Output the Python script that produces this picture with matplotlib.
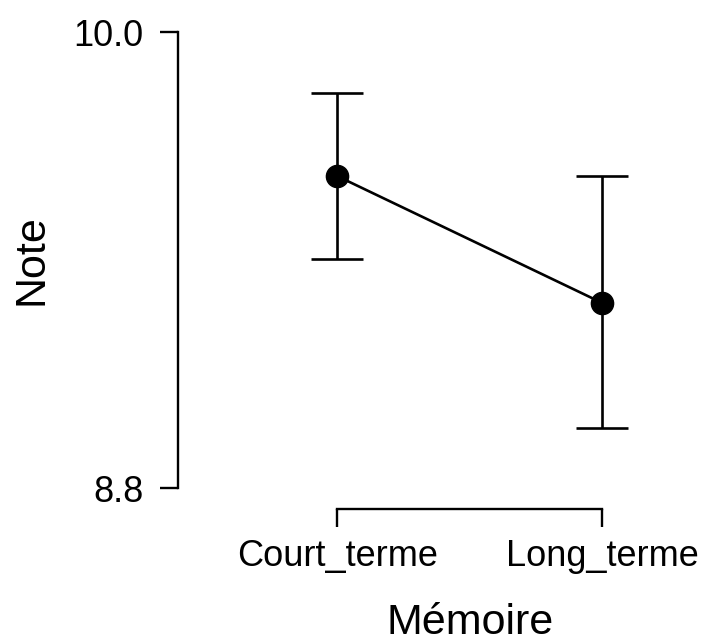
import matplotlib.pyplot as plt
from matplotlib.transforms import blended_transform_factory

# data
categories = ["Court_terme", "Long_terme"]
means = [9.621, 9.287]
lower = [9.403, 8.958]
upper = [9.839, 9.621]

plt.rcParams['font.family'] = ['Liberation Sans', 'DejaVu Sans']

W, H = 702, 642
fig = plt.figure(figsize=(W / 100, H / 100), dpi=100)
ax = fig.add_axes([178 / W, 1 - 488 / H, (695 - 178) / W, (488 - 32) / H])

x = list(range(len(categories)))
yerr = [[m - lo for m, lo in zip(means, lower)], [hi - m for m, hi in zip(means, upper)]]
ax.errorbar(x, means, yerr=yerr, fmt='none', ecolor='black', elinewidth=1.9,
            capsize=18.7, capthick=1.9, zorder=2)
ax.plot(x, means, color='black', lw=1.9, marker='o', markersize=16, zorder=3)

ax.set_xlim(-0.6, 1.35)
ax.set_ylim(8.8, 10.0)
ax.set_yticks([8.8, 10.0])
ax.set_yticklabels(["8.8", "10.0"])
ax.set_xticks(x)
ax.set_xticklabels(categories)

for side in ['top', 'right']:
    ax.spines[side].set_visible(False)
for side in ['left', 'bottom']:
    ax.spines[side].set_linewidth(1.7)
ax.spines['bottom'].set_position(('outward', 15))
ax.spines['bottom'].set_bounds(0, 1)
ax.spines['left'].set_bounds(8.8, 10.0)

ax.tick_params(axis='both', length=13, width=1.7, labelsize=26, colors='black')
ax.tick_params(axis='y', pad=12)
ax.tick_params(axis='x', pad=9)

ax.set_ylabel("Note", fontsize=31)
ax.set_xlabel("Mémoire", fontsize=31)
ax.yaxis.set_label_coords((51 - 178) / 517, 0.5)
ax.xaxis.set_label_coords(0.5, -(603 - 488) / 456,
                          transform=blended_transform_factory(ax.transData, ax.transAxes))

fig.savefig("out.png", dpi=100)
